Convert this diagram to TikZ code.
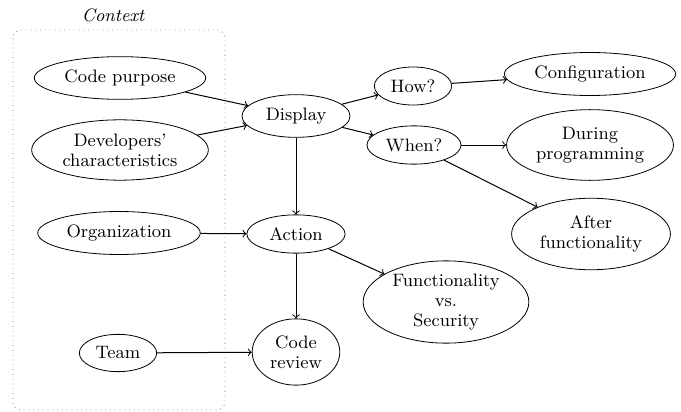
\documentclass[tikz,border=0pt]{standalone}
\usepackage{tikz}
\usetikzlibrary{shapes.geometric}
\tikzset{
	topic/.style = {ellipse, draw=black, align=center, inner xsep=2.5pt, inner ysep=3.5pt, font=\fontsize{9}{10}\selectfont},
	link/.style = {->, line width=0.5pt},
}

\begin{document}
\begin{tikzpicture}[x=0.5pt, y=-0.5pt]
	\useasboundingbox (0,0) rectangle (681,412);

	% context frame
	\draw[dotted, rounded corners=4pt, gray] (13,30) rectangle (225,410);
	\node[font=\fontsize{9}{10}\selectfont\itshape] (ctx) at (113,15) {Context};

	\node[topic] (purpose) at (120,78) {Code purpose};
	\node[topic, inner ysep=2.5pt] (devs) at (120,150) {Developers'\\characteristics};
	\node[topic] (org) at (119,233) {Organization};
	\node[topic] (team) at (118,353) {Team};

	\node[topic, inner xsep=4pt] (display) at (296,116) {Display};
	\node[topic, inner xsep=4pt] (action) at (296,234) {Action};
	\node[topic] (review) at (296,352) {Code\\review};

	\node[topic] (how) at (413,86) {How?};
	\node[topic] (when) at (414,145) {When?};
	\node[topic, inner ysep=0.5pt] (funcsec) at (446,302) {Functionality\\vs.\\Security};

	\node[topic] (config) at (590,74) {Configuration};
	\node[topic] (during) at (590,145) {During\\programming};
	\node[topic] (after) at (591,234) {After\\functionality};

	\path (purpose) edge[link] (display);
	\path (devs) edge[link] (display);
	\path (display) edge[link] (how);
	\path (display) edge[link] (when);
	\path (how) edge[link] (config);
	\path (when) edge[link] (during);
	\path (when) edge[link] (after);
	\path (display) edge[link] (action);
	\path (org) edge[link] (action);
	\path (action) edge[link] (funcsec);
	\path (action) edge[link] (review);
	\path (team) edge[link] (review);
\end{tikzpicture}
\end{document}
